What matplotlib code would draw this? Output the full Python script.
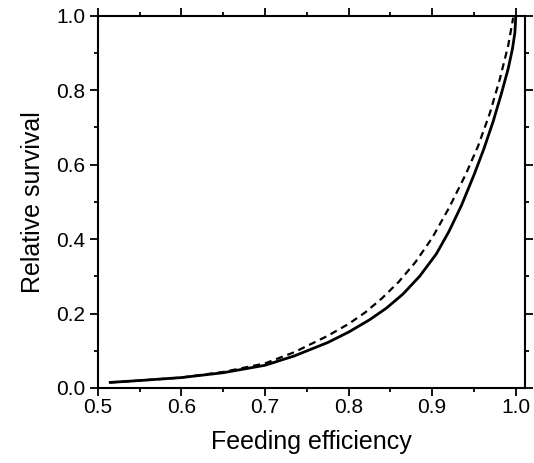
#!/usr/bin/env python3
"""Relative survival vs feeding efficiency: solid and dashed curves."""
import matplotlib

matplotlib.use("Agg")
import matplotlib.pyplot as plt
from matplotlib.ticker import MultipleLocator

plt.rcParams["font.family"] = ["Liberation Sans", "DejaVu Sans"]

# values
solid_x = [0.515, 0.55, 0.60, 0.65, 0.70, 0.735, 0.775, 0.80, 0.825, 0.845,
           0.865, 0.885, 0.905, 0.92, 0.935, 0.95, 0.962, 0.973, 0.983,
           0.991, 0.996, 0.999, 1.0]
solid_y = [0.015, 0.020, 0.028, 0.041, 0.061, 0.086, 0.122, 0.150, 0.183, 0.214,
           0.252, 0.300, 0.360, 0.420, 0.490, 0.572, 0.643, 0.716, 0.792,
           0.858, 0.910, 0.955, 0.995]

dashed_x = [0.515, 0.55, 0.60, 0.65, 0.70, 0.735, 0.775, 0.80, 0.82, 0.84,
            0.86, 0.88, 0.90, 0.92, 0.94, 0.955, 0.969, 0.981, 0.991, 0.997]
dashed_y = [0.015, 0.020, 0.028, 0.043, 0.066, 0.096, 0.140, 0.172, 0.203, 0.241,
            0.285, 0.338, 0.403, 0.483, 0.573, 0.650, 0.738, 0.830, 0.920, 0.995]

fig = plt.figure(figsize=(5.34, 4.63), dpi=100)
ax = fig.add_axes([0.183, 0.162, 0.800, 0.804])

ax.plot(solid_x, solid_y, color="black", lw=2.0, solid_joinstyle="round")
ax.plot(dashed_x, dashed_y, color="black", lw=1.6, dashes=(3.2, 2.2))

ax.set_xlim(0.5, 1.011)
ax.set_ylim(0.0, 1.0)
ax.xaxis.set_major_locator(MultipleLocator(0.1))
ax.xaxis.set_minor_locator(MultipleLocator(0.05))
ax.yaxis.set_major_locator(MultipleLocator(0.2))
ax.yaxis.set_minor_locator(MultipleLocator(0.1))
ax.xaxis.set_major_formatter(plt.FormatStrFormatter("%.1f"))
ax.yaxis.set_major_formatter(plt.FormatStrFormatter("%.1f"))

ax.tick_params(which="both", direction="out", top=True, right=True,
               width=1.3, labelsize=15)
ax.tick_params(which="major", length=6)
ax.tick_params(which="minor", length=3)
ax.tick_params(axis="x", pad=1.5)
ax.tick_params(axis="y", pad=3)
for sp in ax.spines.values():
    sp.set_linewidth(1.5)

ax.set_xlabel("Feeding efficiency", fontsize=18, labelpad=9)
ax.set_ylabel("Relative survival", fontsize=18, labelpad=8)

fig.savefig("out.png", dpi=100)
plt.close(fig)
